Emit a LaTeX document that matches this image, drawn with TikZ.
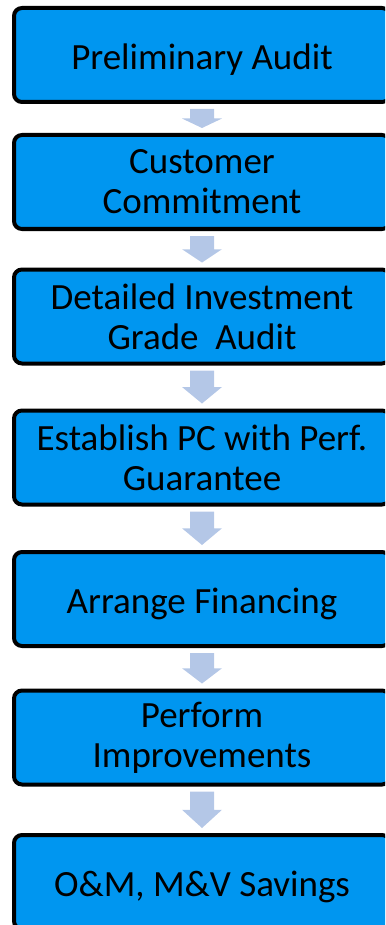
\documentclass[tikz,border=0pt]{standalone}
\usepackage{fontspec}
\setmainfont{Carlito}
\usepackage{tikz}
\usetikzlibrary{calc}
\definecolor{stepblue}{RGB}{0,150,240}
\definecolor{arrowblue}{RGB}{180,199,231}
\tikzset{
    stepbox/.style={draw=black, line width=4pt, fill=stepblue, rounded corners=8pt,
        minimum width=376pt, minimum height=94pt, align=center,
        font=\fontsize{37pt}{40pt}\selectfont,
        execute at begin node={\rule{0pt}{35pt}}},
    blockarrow/.style={
        to path={($(\tikztostart)+(-12pt,-5pt)$)
        -- ($(\tikztostart)!0.5!(\tikztotarget)+(-12pt,0)$)
        -- ($(\tikztostart)!0.5!(\tikztotarget)+(-20pt,0)$)
        -- ($(\tikztotarget)+(0,5pt)$)
        -- ($(\tikztostart)!0.5!(\tikztotarget)+(20pt,0)$)
        -- ($(\tikztostart)!0.5!(\tikztotarget)+(12pt,0)$)
        -- ($(\tikztostart)+(12pt,-5pt)$) -- cycle}
    },
}

\begin{document}
\begin{tikzpicture}[x=1pt,y=-1pt]
\useasboundingbox (0,0) rectangle (385,925);
\clip (0,0) rectangle (385,925);
%\draw[step=50pt,lightgray,very thin] (0,0) grid (385,925);
\node[stepbox] (audit) at (202,55) {Preliminary Audit};
\node[stepbox] (commit) at (202,182) {Customer\\Commitment};
\node[stepbox] (iga) at (202,316.5) {Detailed Investment\\Grade\ \ Audit};
\node[stepbox] (pc) at (202,457.5) {Establish PC with Perf.\\Guarantee};
\node[stepbox] (finance) at (202,599) {Arrange Financing};
\node[stepbox] (improve) at (202,737.5) {Perform\\Improvements};
\node[stepbox] (savings) at (202,882) {O\&M, M\&V Savings};
\fill[arrowblue] (audit.south) to[blockarrow] (commit.north);
\fill[arrowblue] (commit.south) to[blockarrow] (iga.north);
\fill[arrowblue] (iga.south) to[blockarrow] (pc.north);
\fill[arrowblue] (pc.south) to[blockarrow] (finance.north);
\fill[arrowblue] (finance.south) to[blockarrow] (improve.north);
\fill[arrowblue] (improve.south) to[blockarrow] (savings.north);
\end{tikzpicture}
\end{document}
